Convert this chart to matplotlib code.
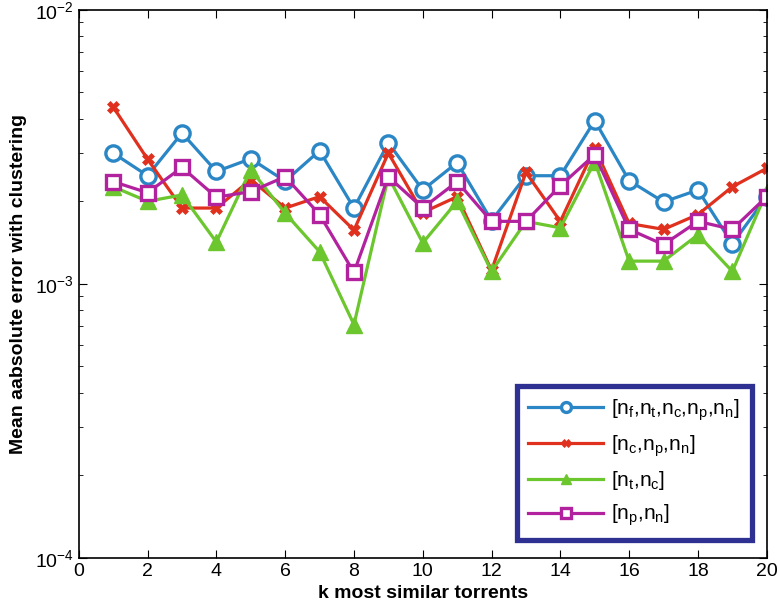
import matplotlib
matplotlib.use("Agg")
import matplotlib.pyplot as plt
import numpy as np

plt.rcParams['font.family'] = ['Liberation Sans', 'DejaVu Sans']
plt.rcParams['mathtext.fontset'] = 'custom'
plt.rcParams['mathtext.rm'] = 'Liberation Sans'
plt.rcParams['mathtext.it'] = 'Liberation Sans'
plt.rcParams['mathtext.default'] = 'regular'

k = list(range(1, 21))
all_feat = [3.0e-3, 2.48e-3, 3.55e-3, 2.57e-3, 2.86e-3, 2.37e-3, 3.06e-3, 1.89e-3, 3.27e-3, 2.2e-3,
            2.77e-3, 1.70e-3, 2.48e-3, 2.48e-3, 3.94e-3, 2.38e-3, 1.99e-3, 2.2e-3, 1.40e-3, 2.08e-3]
c_p_n = [4.42e-3, 2.85e-3, 1.89e-3, 1.89e-3, 2.4e-3, 1.89e-3, 2.08e-3, 1.57e-3, 3.0e-3, 1.82e-3,
         2.08e-3, 1.12e-3, 2.55e-3, 1.69e-3, 3.13e-3, 1.66e-3, 1.58e-3, 1.79e-3, 2.26e-3, 2.64e-3]
t_c = [2.26e-3, 2.0e-3, 2.11e-3, 1.42e-3, 2.61e-3, 1.81e-3, 1.31e-3, 7.1e-4, 2.46e-3, 1.41e-3,
       2.0e-3, 1.11e-3, 1.69e-3, 1.6e-3, 2.79e-3, 1.21e-3, 1.21e-3, 1.51e-3, 1.11e-3, 2.17e-3]
p_n = [2.36e-3, 2.15e-3, 2.66e-3, 2.07e-3, 2.17e-3, 2.46e-3, 1.79e-3, 1.1e-3, 2.46e-3, 1.89e-3,
       2.36e-3, 1.69e-3, 1.69e-3, 2.28e-3, 2.96e-3, 1.58e-3, 1.39e-3, 1.69e-3, 1.58e-3, 2.08e-3]
labels = [r'$[n_f{,}n_t{,}n_c{,}n_p{,}n_n]$', r'$[n_c{,}n_p{,}n_n]$', r'$[n_t{,}n_c]$', r'$[n_p{,}n_n]$']

fig = plt.figure(figsize=(7.8, 6.11), dpi=100)
ax = fig.add_axes([0.101, 0.087, 0.882, 0.897])

lw = 2.3
ax.plot(k, all_feat, color='#2a86c4', lw=lw, marker='o', ms=11, mfc='white', mec='#2a86c4', mew=2.4, label=labels[0])
ax.plot(k, c_p_n, color='#e0301e', lw=lw, marker='X', ms=9, mfc='#e0301e', mec='#e0301e', mew=0.5, label=labels[1])
ax.plot(k, t_c, color='#6cc62e', lw=lw, marker='^', ms=12, mfc='#6cc62e', mec='#6cc62e', label=labels[2])
ax.plot(k, p_n, color='#b2229f', lw=lw, marker='s', ms=10, mfc='white', mec='#b2229f', mew=2.4, label=labels[3])

ax.set_yscale('log')
ax.set_xlim(0, 20)
ax.set_ylim(1e-4, 1e-2)
ax.set_xticks(range(0, 21, 2))
ax.tick_params(axis='both', which='both', direction='in', top=True, right=True, labelsize=14)
ax.tick_params(which='major', length=6)
ax.tick_params(which='minor', length=3)
for s in ax.spines.values():
    s.set_linewidth(1.2)
ax.set_xlabel('k most similar torrents', fontsize=14, fontweight='bold', labelpad=4)
ax.set_ylabel('Mean aabsolute error with clustering', fontsize=14, fontweight='bold', labelpad=6)

leg = ax.legend(loc='lower right', bbox_to_anchor=(0.978, 0.033), borderaxespad=0, fontsize=15,
                frameon=True, fancybox=False, edgecolor='#2e3192', framealpha=1, borderpad=0.55,
                handlelength=3.6, handletextpad=0.4, labelspacing=0.5, markerscale=0.65)
leg.get_frame().set_linewidth(3.8)

fig.savefig('out.png', dpi=100)
